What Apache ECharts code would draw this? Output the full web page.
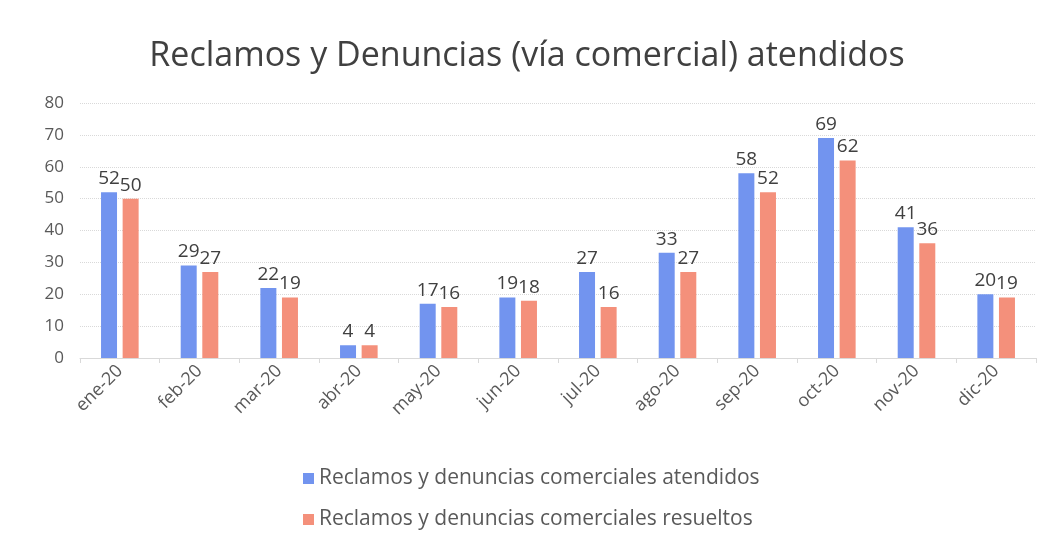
<!DOCTYPE html>
<html>
<head>
<meta charset="utf-8">
<script src="https://cdn.jsdelivr.net/npm/echarts@6/dist/echarts.min.js"></script>
<style>
  html, body { margin: 0; padding: 0; background: #fff; }
  #chart { width: 1054px; height: 546px; }
</style>
</head>
<body>
<div id="chart"></div>
<script>
// meses y valores
let months = ['ene-20', 'feb-20', 'mar-20', 'abr-20', 'may-20', 'jun-20', 'jul-20', 'ago-20', 'sep-20', 'oct-20', 'nov-20', 'dic-20'];
let atendidos = [52, 29, 22, 4, 17, 19, 27, 33, 58, 69, 41, 20];
let resueltos = [50, 27, 19, 4, 16, 18, 16, 27, 52, 62, 36, 19];
let yTicks = [0, 10, 20, 30, 40, 50, 60, 70, 80];

let fontName = '"Open Sans", "Noto Sans", sans-serif';
let chart = echarts.init(document.getElementById('chart'));

let labelStyle = {
    show: true,
    position: 'top',
    distance: 4,
    color: '#404040',
    fontSize: 19,
    fontFamily: fontName
};

chart.setOption({
    backgroundColor: '#ffffff',
    animation: false,
    title: {
        text: 'Reclamos y Denuncias (vía comercial) atendidos',
        left: 'center',
        top: 34,
        textStyle: { fontSize: 34, fontWeight: 'normal', color: '#404040', fontFamily: fontName }
    },
    legend: {
        orient: 'vertical',
        left: 298,
        top: 463,
        itemGap: 20,
        itemWidth: 11,
        itemHeight: 11,
        icon: 'rect',
        textStyle: { fontSize: 21, color: '#595959', fontFamily: fontName }
    },
    grid: { left: 80, right: 18, top: 103, bottom: 188 },
    xAxis: {
        type: 'category',
        data: months,
        axisLine: { lineStyle: { color: '#d9d9d9' } },
        axisTick: { show: true, alignWithLabel: false, lineStyle: { color: '#d9d9d9' } },
        axisLabel: { rotate: 45, color: '#595959', fontSize: 18, fontFamily: fontName, margin: 10 }
    },
    yAxis: {
        type: 'value',
        min: yTicks[0],
        max: yTicks[yTicks.length - 1],
        interval: 10,
        axisLine: { show: false },
        axisTick: { show: false },
        axisLabel: { color: '#595959', fontSize: 17, fontFamily: fontName, margin: 16 },
        splitLine: { lineStyle: { color: '#d9d9d9', type: 'dotted' } }
    },
    series: [
        {
            name: 'Reclamos y denuncias comerciales atendidos',
            type: 'bar',
            data: atendidos,
            barWidth: 16,
            barGap: '35%',
            itemStyle: { color: '#7294ef' },
            label: labelStyle
        },
        {
            name: 'Reclamos y denuncias comerciales resueltos',
            type: 'bar',
            data: resueltos,
            barWidth: 16,
            itemStyle: { color: '#f4907b' },
            label: labelStyle
        }
    ]
});
</script>
</body>
</html>
